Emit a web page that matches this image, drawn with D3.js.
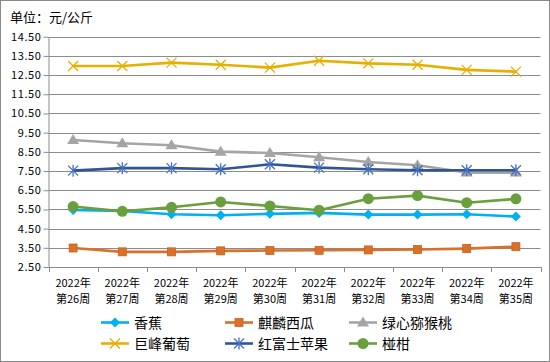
<!DOCTYPE html>
<html><head><meta charset="utf-8">
<script src="https://cdn.jsdelivr.net/npm/d3@7"></script>
<style>body{margin:0;background:#fff}svg{display:block}</style>
</head><body><svg id="c" width="550" height="362"></svg>
<script>
const categories = ["2022年|第26周","2022年|第27周","2022年|第28周","2022年|第29周","2022年|第30周","2022年|第31周","2022年|第32周","2022年|第33周","2022年|第34周","2022年|第35周"];
const banana     = [5.47,5.42,5.25,5.20,5.27,5.32,5.23,5.23,5.25,5.13];
const watermelon = [3.49,3.29,3.29,3.34,3.36,3.37,3.39,3.41,3.46,3.56];
const kiwi       = [9.12,8.95,8.84,8.51,8.44,8.22,7.97,7.80,7.42,7.42];
const grape      = [12.97,12.97,13.15,13.04,12.89,13.25,13.11,13.04,12.77,12.68];
const apple      = [7.52,7.65,7.65,7.59,7.85,7.68,7.59,7.54,7.54,7.54];
const tangerine  = [5.65,5.40,5.61,5.89,5.68,5.46,6.06,6.22,5.85,6.05];
const yTicks = [14.5,13.5,12.5,11.5,10.5,9.5,8.5,7.5,6.5,5.5,4.5,3.5,2.5];
const seriesNames = ["香蕉","麒麟西瓜","绿心猕猴桃","巨峰葡萄","红富士苹果","椪柑"];
const unitLabel = "单位：元/公斤";

const series = [
  {name:seriesNames[0], values:banana, color:"#00B0F0", marker:"diamond"},
  {name:seriesNames[1], values:watermelon, color:"#D9712A", marker:"square"},
  {name:seriesNames[2], values:kiwi, color:"#A5A5A5", marker:"triangle"},
  {name:seriesNames[3], values:grape, color:"#E6B000", marker:"x"},
  {name:seriesNames[4], values:apple, color:"#2F5597", marker:"star", mcolor:"#4472C4"},
  {name:seriesNames[5], values:tangerine, color:"#6A9F3E", marker:"circle"}
];

const svg = d3.select("#c");
const font = "'Noto Sans CJK SC','Noto Sans',sans-serif";
svg.append("rect").attr("x",0.5).attr("y",0.5).attr("width",549).attr("height",361)
  .attr("fill","#fff").attr("stroke","#8a8a8a");

const L=48.5, R=540.5, T=36.7, B=267;
const x = d3.scaleBand().domain(categories).range([L,R]);
const y = d3.scaleLinear().domain([2.5,14.5]).range([B,T]);

svg.append("text").attr("x",10).attr("y",22).attr("font-family",font).attr("font-size",13)
  .attr("fill","#000").text(unitLabel);

// grid
svg.append("g").selectAll("line").data(yTicks).join("line")
  .attr("x1",L).attr("x2",R).attr("y1",d=>Math.round(y(d))+0.5).attr("y2",d=>Math.round(y(d))+0.5)
  .attr("stroke","#8c8c8c").attr("stroke-width",1);

// y axis
const ya = svg.append("g").attr("transform",`translate(${L},0)`)
  .call(d3.axisLeft(y).tickValues(yTicks).tickFormat(d3.format(".2f")).tickSize(5).tickSizeOuter(0));
ya.select(".domain").attr("stroke","#8c8c8c");
ya.selectAll(".tick line").attr("stroke","#8c8c8c");
ya.selectAll(".tick text").attr("font-family",font).attr("font-size",11).attr("fill","#000")
  .attr("x",-7).attr("letter-spacing","0.6px");

// x axis
const xa = svg.append("g").attr("transform",`translate(0,${B})`)
  .call(d3.axisBottom(x).tickSize(0).tickSizeOuter(0));
xa.select(".domain").attr("stroke","#8c8c8c");
xa.selectAll(".tick text").remove();
const bounds = categories.map(c=>x(c)).concat([R]);
xa.selectAll(".bt").data(bounds).join("line").attr("class","bt")
  .attr("x1",d=>Math.round(d)+0.5).attr("x2",d=>Math.round(d)+0.5).attr("y1",0).attr("y2",5)
  .attr("stroke","#8c8c8c");
categories.forEach(c=>{
  const parts=c.split("|");
  const t = svg.append("text").attr("font-family",font).attr("font-size",11).attr("fill","#000")
    .attr("text-anchor","middle");
  t.append("tspan").attr("x",x(c)+x.bandwidth()/2).attr("y",287).text(parts[0]);
  t.append("tspan").attr("x",x(c)+x.bandwidth()/2).attr("y",303).text(parts[1]);
});

function drawMarker(g, type, cx, cy, s){
  const col = s.mcolor||s.color;
  if(type==="diamond"){
    g.append("path").attr("d",`M${cx},${cy-5}L${cx+5},${cy}L${cx},${cy+5}L${cx-5},${cy}Z`).attr("fill",col);
  } else if(type==="square"){
    g.append("rect").attr("x",cx-4).attr("y",cy-4).attr("width",8).attr("height",8).attr("fill",col)
      .attr("stroke","#C9611C").attr("stroke-width",0.8);
  } else if(type==="triangle"){
    g.append("path").attr("d",`M${cx},${cy-6}L${cx+6},${cy+4}L${cx-6},${cy+4}Z`).attr("fill",col);
  } else if(type==="x"){
    g.append("path").attr("d",`M${cx-5},${cy-5}L${cx+5},${cy+5}M${cx+5},${cy-5}L${cx-5},${cy+5}`)
      .attr("stroke",col).attr("stroke-width",1.3).attr("fill","none");
  } else if(type==="star"){
    g.append("path").attr("d",`M${cx-5},${cy-5}L${cx+5},${cy+5}M${cx+5},${cy-5}L${cx-5},${cy+5}M${cx},${cy-6}L${cx},${cy+6}`)
      .attr("stroke",col).attr("stroke-width",1.3).attr("fill","none");
  } else if(type==="circle"){
    g.append("circle").attr("cx",cx).attr("cy",cy).attr("r",5.5).attr("fill",col);
  }
}

const line = d3.line().x((d,i)=>x(categories[i])+x.bandwidth()/2).y(d=>y(d));
series.forEach(s=>{
  const g = svg.append("g");
  g.append("path").attr("d",line(s.values)).attr("fill","none").attr("stroke",s.color)
    .attr("stroke-width",2.6).attr("stroke-linejoin","round");
  s.values.forEach((v,i)=>drawMarker(g,s.marker,x(categories[i])+x.bandwidth()/2,y(v),s));
});

// legend
const legPos = [[101,322.5],[225,322.5],[349,322.5],[101,343.5],[225,343.5],[349,343.5]];
series.forEach((s,i)=>{
  const [lx,ly]=legPos[i];
  const g=svg.append("g");
  g.append("line").attr("x1",lx).attr("x2",lx+28).attr("y1",ly).attr("y2",ly)
    .attr("stroke",s.color).attr("stroke-width",2.6);
  drawMarker(g,s.marker,lx+14,ly,s);
  g.append("text").attr("x",lx+33).attr("y",ly+5).attr("font-family",font).attr("font-size",14)
    .attr("fill","#000").text(s.name);
});
</script></body></html>
